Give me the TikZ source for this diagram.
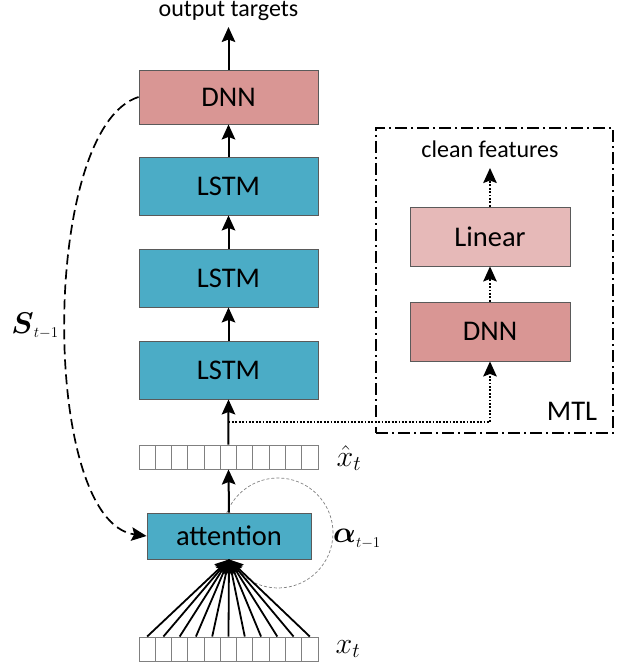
\RequirePackage{fix-cm}
\documentclass[tikz,border=0pt]{standalone}
\usepackage{amsmath}
\usepackage{fontspec}
\setmainfont{Carlito}
\usetikzlibrary{arrows.meta}
\definecolor{dnnc}{HTML}{D99694}
\definecolor{lstmc}{HTML}{4BACC6}
\definecolor{linc}{HTML}{E6B9B8}
\definecolor{edgec}{HTML}{5A5A5A}
\tikzset{
  blk/.style={draw=edgec, line width=0.9pt, minimum width=179pt, inner sep=0pt, font=\fontsize{28.5}{30}\selectfont},
  cell/.style={draw=gray, line width=0.9pt, minimum width=16.27pt, minimum height=24pt, inner sep=0pt},
  tip/.style={-{Stealth[length=15pt,width=13.5pt,inset=2.5pt]}},
  arr/.style={line width=2pt, tip},
  fanarr/.style={line width=1.8pt, -{Stealth[length=14pt,width=13pt,inset=2.5pt]}},
  dotl/.style={line width=1.7pt, dash pattern=on 1.8pt off 1.6pt},
  dotarr/.style={dotl, tip},
  dasharr/.style={line width=1.7pt, dash pattern=on 10pt off 5pt, tip},
  lbl/.style={font=\fontsize{24}{25}\selectfont, inner sep=0pt},
  mlbl/.style={font=\fontsize{30}{30}\selectfont, inner sep=0pt},
}
\begin{document}
\begin{tikzpicture}[x=1pt,y=-1pt]
\useasboundingbox (0,0) rectangle (629,671);

% dashed circle (behind attention box)
\node[circle, draw=gray, dash pattern=on 3pt off 2pt, line width=0.7pt, minimum size=110pt, inner sep=0pt] (loop) at (278,533) {};

% main column
\node[lbl] (otgt) at (228.5,11) {output targets};
\coordinate (otip) at (228.5,27);
\node[blk, fill=dnnc, minimum height=54pt] (dnn) at (228.5,97) {DNN};
\node[blk, fill=lstmc, minimum height=58pt] (lstm1) at (228.5,186) {LSTM};
\node[blk, fill=lstmc, minimum height=58pt] (lstm2) at (228.5,278) {LSTM};
\node[blk, fill=lstmc, minimum height=58pt] (lstm3) at (228.5,370) {LSTM};

\foreach \i in {1,...,11} {
  \node[cell] (xh\i) at ({139+16.27*(\i-0.5)},457) {};
  \node[cell] (x\i) at ({139+16.27*(\i-0.5)},649) {};
}

\node[blk, fill=lstmc, minimum width=164pt, minimum height=46pt] (att) at (229,536) {attention};

% MTL part
\node[draw, line width=1.4pt, dash pattern=on 12pt off 4pt on 2pt off 4pt, minimum width=237pt, minimum height=305pt, inner sep=0pt] (mtl) at (494.5,280.5) {};
\node[font=\fontsize{28.5}{30}\selectfont, inner sep=0pt] (mtllbl) at (572,411) {MTL};
\node[lbl] (clean) at (490,149) {clean features};
\coordinate (ctip) at (490,168);
\node[blk, fill=linc, minimum width=160pt, minimum height=59pt] (lin) at (490,236.5) {Linear};
\node[blk, fill=dnnc, minimum width=160pt, minimum height=59pt] (mdnn) at (490,331.5) {DNN};

% arrows main column
\draw[arr] (dnn.north) -- (otip);
\draw[arr] (lstm1.north) -- (dnn.south);
\draw[arr] (lstm2.north) -- (lstm1.south);
\draw[arr] (lstm3.north) -- (lstm2.south);
\draw[arr] (xh6.north) -- (lstm3.south);
\draw[arr] (att.north) -- (xh6.south);
\foreach \i in {1,...,11} {
  \draw[fanarr] (x\i.north) -- (att.south);
}

% dotted branch
\coordinate (br) at (228.5,422);
\draw[dotarr] (br) -- (br -| mdnn.south) -- (mdnn.south);
\draw[dotarr] (mdnn.north) -- (lin.south);
\draw[dotarr] (lin.north) -- (ctip);

% recurrent dashed connection
\draw[dasharr] (dnn.west) .. controls (40,128) and (40,522) .. (att.west);

% labels
\node[mlbl] (xhl) at (349,458) {$\hat{x}_t$};
\node[mlbl] (xl) at (348,649) {$x_t$};
\node[mlbl] (al) at (357,539) {$\boldsymbol{\alpha}_{\scriptscriptstyle t-1}$};
\node[mlbl] (sl) at (35,326) {$\boldsymbol{S}_{\scriptscriptstyle t-1}$};
\end{tikzpicture}
\end{document}
